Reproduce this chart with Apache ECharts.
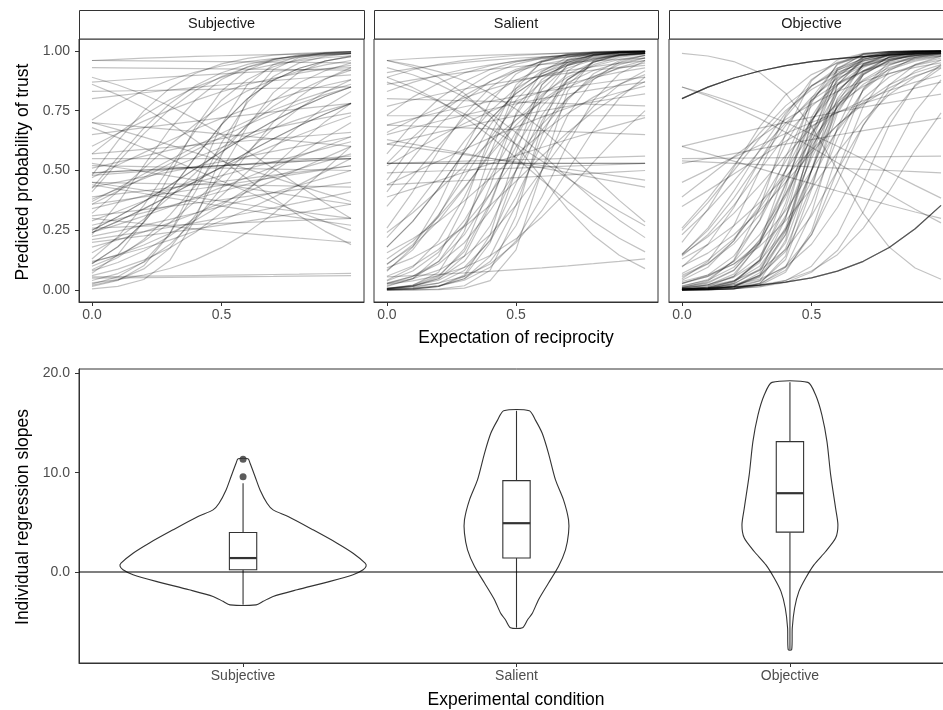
<!DOCTYPE html>
<html><head><meta charset="utf-8">
<script src="https://cdn.jsdelivr.net/npm/echarts@6/dist/echarts.min.js"></script>
<style>html,body{margin:0;padding:0;background:#fff;overflow:hidden;width:943px;height:710px}#c{width:960px;height:710px}</style>
</head><body><div id="c"></div>
<script>
// ---------------- DATA ----------------
const conditions = ['Subjective', 'Salient', 'Objective'];
const expectationLevels = [0, 0.1, 0.2, 0.3, 0.4, 0.5, 0.6, 0.7, 0.8, 0.9, 1.0];
const expectationTicks = [0, 0.5];
const probabilityTicks = [0, 0.25, 0.5, 0.75, 1];
const slopeTicks = [0, 10, 20];

// individual logistic fits per participant: [intercept, slope] (logit scale)
const subjectiveFits = [[3.18,-0.24],[3.18,1.42],[2.59,-0.15],[1.82,-3.27],[2.09,-2.94],[1.9,0.69],[1.59,0.14],[1.39,0.81],[0.85,-1.38],[0.85,-0.44],[0.75,-1.85],[0.28,0.38],[0.28,3.61],[0.2,0],[0.12,-0.7],[0.04,1.01],[-0.04,0.24],[-0.04,0.24],[-0.08,0.32],[-0.08,5.88],[-0.12,2.11],[-0.2,-0.65],[-0.28,0.86],[-0.36,4.96],[-0.45,0.53],[-0.49,1.76],[-0.58,2.31],[-0.66,1.15],[-0.75,3.93],[-0.8,0.6],[-0.9,1.89],[-0.99,1.27],[-1.1,2.83],[-1.1,2.83],[-1.15,2.42],[-1.15,2.42],[-1.15,1.73],[-1.24,1.24],[-1.32,0.96],[-1.52,1.93],[-1.69,4.13],[-1.9,6.5],[-2.04,2.89],[-2.09,5.8],[-2.09,5.8],[-2.2,4.19],[-2.38,5.32],[-2.59,8.39],[-2.84,0.25],[-2.94,0.19],[-3.18,5.77],[-3.66,8.26],[-4.18,9.98],[-5.29,11.09],[-3.89,7.78],[-2.44,4.03],[-0.85,-0.54],[-0.24,-0.75],[0.08,-0.08],[-0.58,0.66],[-1.05,0.2],[-0.2,-0.08],[0.41,2.34],[-1.99,2.19],[-2.75,4.02],[-3.48,3.89],[0.62,0.65],[-0.53,2.35],[-1.39,0.81],[-0.3,5.2],[-1.2,6.4],[0.9,3.6]];
const salientFits = [[3.18,-5.5],[3.18,-4.1],[2.59,-3.86],[2.09,-3.75],[1.9,-2.9],[0.53,-0.81],[0.45,-0.61],[0.12,0],[0.12,0],[0.12,0.12],[0.8,-0.18],[0.99,0],[-0.24,0.24],[-0.04,0.16],[1.39,-0.18],[-2.84,0.94],[0.62,1.28],[3.18,2.1],[2.31,2.3],[2.09,3.7],[1.82,1.66],[1.59,3.0],[1.2,1.55],[1.0,4.3],[0.8,1.3],[0.66,2.5],[0.45,1.07],[0.28,5.5],[0.12,4.5],[0.08,2.5],[-0.16,6],[-0.24,2.0],[-0.36,5.7],[-0.45,1.4],[-0.62,5.2],[-1.05,6.9],[-1.15,4.1],[-1.27,5.9],[-1.52,6.1],[-1.52,6.1],[-1.69,3.9],[-1.9,5.4],[-2.12,6.7],[-2.28,4.2],[-2.46,9.4],[-2.79,6.0],[-3.23,7.8],[-3.7,4.8],[-8.8,16],[-7,14],[-5.4,12],[-6.6,12],[-4,10],[-5,10],[-6,10],[-3.15,9],[-5.85,9],[-3.6,8],[-2.4,8],[-5.46,13],[-7.2,15],[-5.72,11],[-3.5,7],[-4.9,7],[-3.6,6],[-2.1,6],[-9.6,16],[-4.2,12],[-5.32,14],[-4.95,11],[-4.95,9]];
const objectiveFits = [[1.39,3.34],[1.39,3.34],[1.39,3.34],[1.39,3.34],[1.39,3.34],[-5.24,4.64],[-5.24,4.64],[-5.24,4.64],[-5.24,4.64],[4.6,-7.65],[1.73,-2.67],[1.73,-2.2],[0.41,-1.26],[0.16,-0.2],[0.2,0.04],[0.12,0.82],[-1.05,5.65],[-1.2,5.1],[-1.39,7.2],[-1.73,6.3],[-0.45,3.4],[-0.2,2.1],[0.41,1.1],[-0.62,2.8],[-2.2,5],[-2.6,6.5],[-1.9,4.5],[-8.93,19],[-9,18],[-7.65,17],[-8.32,16],[-6.72,16],[-7.2,15],[-8.25,15],[-5.6,14],[-7,14],[-8.12,14],[-5.85,13],[-6.76,13],[-4.55,13],[-5.64,12],[-7.2,12],[-5.04,12],[-4.18,11],[-5.5,11],[-6.05,11],[-4.4,10],[-3,10],[-6.2,10],[-3.6,9],[-4.68,9],[-3.15,9],[-3.6,8],[-2.24,8],[-4.8,8],[-2.85,7.5],[-3.5,7],[-1.75,7],[-2.73,6.5],[-1.8,6],[-3.3,6],[-1.1,5.5],[-1.75,5],[-7.02,9],[-5.95,7],[-7.2,10],[-5.44,8],[-6,12],[-4.8,10],[-4.62,11],[-6.24,13],[-4.05,9],[-7.52,16],[-6.16,14]];

// violin outlines: slope levels and relative density width (1 = widest violin)
const subjectiveViolinLevels = [11.4, 10.95, 9.6, 8.27, 6.93, 6.26, 5.59, 4.25, 2.91, 1.9, 0.9, 0.6, 0.23, -0.27, -0.94, -1.78, -2.45, -2.95, -3.3];
const subjectiveViolinWidths = [0.04, 0.057, 0.098, 0.138, 0.195, 0.244, 0.366, 0.569, 0.764, 0.894, 0.992, 1.0, 0.976, 0.894, 0.707, 0.439, 0.244, 0.163, 0.106];
const salientViolinLevels = [16.24, 15.3, 13.97, 11.96, 9.28, 7.27, 5.26, 3.92, 2.24, 0.56, -1.1, -2.78, -4.12, -4.8, -5.6];
const salientViolinWidths = [0.104, 0.154, 0.209, 0.26, 0.317, 0.382, 0.423, 0.423, 0.398, 0.341, 0.26, 0.179, 0.13, 0.09, 0.049];
const objectiveViolinLevels = [19.1, 17.82, 15.8, 13.13, 9.78, 6.43, 4.75, 3.42, 2.07, 0.73, -0.6, -1.95, -3.62, -5.63, -7.81];
const objectiveViolinWidths = [0.146, 0.209, 0.26, 0.301, 0.331, 0.371, 0.39, 0.371, 0.29, 0.195, 0.128, 0.073, 0.038, 0.019, 0.014];

// box plot statistics per condition
const boxLower = [-3.3, -5.6, -7.81];
const boxQ1 = [0.23, 1.41, 4.02];
const boxMedian = [1.41, 4.92, 7.94];
const boxQ3 = [3.98, 9.21, 13.13];
const boxUpper = [8.94, 16.24, 19.1];
const subjectiveOutliers = [11.36, 9.6];

// ---------------- CHART ----------------
const FONT = '"Liberation Sans", Arial, Helvetica, sans-serif';
const chart = echarts.init(document.getElementById('c'), null, {renderer: 'canvas'});
const fits = [subjectiveFits, salientFits, objectiveFits];
const violinLevels = [subjectiveViolinLevels, salientViolinLevels, objectiveViolinLevels];
const violinWidths = [subjectiveViolinWidths, salientViolinWidths, objectiveViolinWidths];

const panelLeft = [79, 374, 669];
const panelWidth = [285, 284, 285];
const grids = panelLeft.map((l, i) => ({left: l, top: 39, width: panelWidth[i], height: 263,
  show: true, borderColor: '#333', borderWidth: 1, backgroundColor: '#fff', containLabel: false, outerBoundsMode: 'none'}));
grids.push({left: 79, top: 369, width: 875, height: 294, show: true, borderColor: '#333', borderWidth: 1,
  backgroundColor: '#fff', containLabel: false, outerBoundsMode: 'none'});

const labelStyle = {color: '#4d4d4d', fontSize: 14, fontFamily: FONT};
const xAxes = [0, 1, 2].map(i => ({
  type: 'value', gridIndex: i, min: -0.05, max: 1.05,
  axisLine: {show: true, onZero: false, lineStyle: {color: '#333', width: 1}},
  axisTick: {show: true, length: 4, lineStyle: {color: '#333'}, customValues: expectationTicks},
  axisLabel: Object.assign({show: true, margin: 6, customValues: expectationTicks, formatter: v => v.toFixed(1)}, labelStyle),
  splitLine: {show: false}
}));
const slopeAll = [].concat(...violinLevels, subjectiveOutliers);
const sMin = Math.min(...slopeAll), sMax = Math.max(...slopeAll), sPad = (sMax - sMin) * 0.05;
xAxes.push({
  type: 'value', gridIndex: 3, min: 0.4, max: 3.6,
  axisLine: {show: true, onZero: false, lineStyle: {color: '#333', width: 1}},
  axisTick: {show: true, length: 4, lineStyle: {color: '#333'}, customValues: [1, 2, 3]},
  axisLabel: Object.assign({show: true, margin: 6, customValues: [1, 2, 3], formatter: v => conditions[Math.round(v) - 1]}, labelStyle),
  splitLine: {show: false}
});
const yAxes = [0, 1, 2].map(i => ({
  type: 'value', gridIndex: i, min: -0.05, max: 1.05,
  axisLine: {show: i === 0, onZero: false, lineStyle: {color: '#333', width: 1}},
  axisTick: {show: i === 0, length: 4, lineStyle: {color: '#333'}, customValues: probabilityTicks},
  axisLabel: Object.assign({show: i === 0, margin: 9, customValues: probabilityTicks, formatter: v => v.toFixed(2)}, labelStyle),
  splitLine: {show: false}
}));
yAxes.push({
  type: 'value', gridIndex: 3, min: sMin - sPad, max: sMax + sPad,
  axisLine: {show: true, onZero: false, lineStyle: {color: '#333', width: 1}},
  axisTick: {show: true, length: 4, lineStyle: {color: '#333'}, customValues: slopeTicks},
  axisLabel: Object.assign({show: true, margin: 9, customValues: slopeTicks, formatter: v => v.toFixed(1)}, labelStyle),
  splitLine: {show: false}
});

const logistic = (a, b, x) => 1 / (1 + Math.exp(-(a + b * x)));
const series = [];
fits.forEach((list, i) => {
  list.forEach(([a, b]) => {
    series.push({
      type: 'line', xAxisIndex: i, yAxisIndex: i, silent: true, animation: false,
      symbol: 'none', showSymbol: false, clip: true, z: 2,
      lineStyle: {color: '#000', width: 1.2, opacity: 0.24},
      emphasis: {disabled: true},
      data: expectationLevels.map(x => [x, logistic(a, b, x)])
    });
  });
});

// violins
series.push({
  type: 'custom', xAxisIndex: 3, yAxisIndex: 3, silent: true, animation: false, z: 2,
  data: [[1], [2], [3]],
  renderItem: (params, api) => {
    const k = params.dataIndex;
    const pos = api.value(0);
    const lv = violinLevels[k], wd = violinWidths[k];
    const pts = [];
    for (let j = 0; j < lv.length; j++) pts.push(api.coord([pos - wd[j] * 0.45, lv[j]]));
    for (let j = lv.length - 1; j >= 0; j--) pts.push(api.coord([pos + wd[j] * 0.45, lv[j]]));
    return {type: 'polygon', shape: {points: pts, smooth: 0.25},
      style: {fill: '#fff', stroke: '#333', lineWidth: 1.1}};
  }
});
// boxes
series.push({
  type: 'custom', xAxisIndex: 3, yAxisIndex: 3, silent: true, animation: false, z: 3,
  data: [[1], [2], [3]],
  renderItem: (params, api) => {
    const k = params.dataIndex;
    const pos = api.value(0);
    const p = (x, y) => api.coord([x, y]);
    const tl = p(pos - 0.05, boxQ3[k]), br = p(pos + 0.05, boxQ1[k]);
    const cx = p(pos, 0)[0];
    const st = {stroke: '#333', lineWidth: 1.1};
    return {type: 'group', children: [
      {type: 'line', shape: {x1: cx, y1: p(pos, boxQ3[k])[1], x2: cx, y2: p(pos, boxUpper[k])[1]}, style: st},
      {type: 'line', shape: {x1: cx, y1: p(pos, boxQ1[k])[1], x2: cx, y2: p(pos, boxLower[k])[1]}, style: st},
      {type: 'rect', shape: {x: tl[0], y: tl[1], width: br[0] - tl[0], height: br[1] - tl[1]}, style: {fill: '#fff', stroke: '#333', lineWidth: 1.1}},
      {type: 'line', shape: {x1: tl[0], y1: p(pos, boxMedian[k])[1], x2: br[0], y2: p(pos, boxMedian[k])[1]}, style: {stroke: '#333', lineWidth: 2.2}}
    ]};
  }
});
// zero reference line
series.push({
  type: 'line', xAxisIndex: 3, yAxisIndex: 3, silent: true, animation: false, z: 4,
  symbol: 'none', lineStyle: {color: '#000', width: 1.1},
  data: [[0.4, 0], [3.6, 0]]
});
// outliers
series.push({
  type: 'scatter', xAxisIndex: 3, yAxisIndex: 3, silent: true, animation: false, z: 5,
  symbolSize: 7, itemStyle: {color: '#333'},
  data: subjectiveOutliers.map(v => [1, v])
});

const graphicEls = [];
conditions.forEach((name, i) => {
  graphicEls.push({type: 'rect', shape: {x: panelLeft[i] + 0.5, y: 10.5, width: panelWidth[i], height: 28.5},
    style: {fill: '#fff', stroke: '#333', lineWidth: 1}, z: 10});
  graphicEls.push({type: 'text', x: panelLeft[i] + panelWidth[i] / 2, y: 24, z: 11,
    style: {text: name, fill: '#1a1a1a', font: '14.5px ' + FONT, textAlign: 'center', textVerticalAlign: 'middle'}});
});
const TITLE_FONT = '17.5px ' + FONT;
graphicEls.push({type: 'text', x: 23, y: 172, rotation: Math.PI / 2, z: 11,
  style: {text: 'Predicted probability of trust', fill: '#000', font: TITLE_FONT, textAlign: 'center', textVerticalAlign: 'middle'}});
graphicEls.push({type: 'text', x: 516, y: 338, z: 11,
  style: {text: 'Expectation of reciprocity', fill: '#000', font: TITLE_FONT, textAlign: 'center', textVerticalAlign: 'middle'}});
graphicEls.push({type: 'text', x: 23, y: 517, rotation: Math.PI / 2, z: 11,
  style: {text: 'Individual regression slopes', fill: '#000', font: TITLE_FONT, textAlign: 'center', textVerticalAlign: 'middle'}});
graphicEls.push({type: 'text', x: 516, y: 700, z: 11,
  style: {text: 'Experimental condition', fill: '#000', font: TITLE_FONT, textAlign: 'center', textVerticalAlign: 'middle'}});

chart.setOption({
  animation: false,
  backgroundColor: '#fff',
  grid: grids,
  xAxis: xAxes,
  yAxis: yAxes,
  series: series,
  graphic: {elements: graphicEls}
});
</script></body></html>
